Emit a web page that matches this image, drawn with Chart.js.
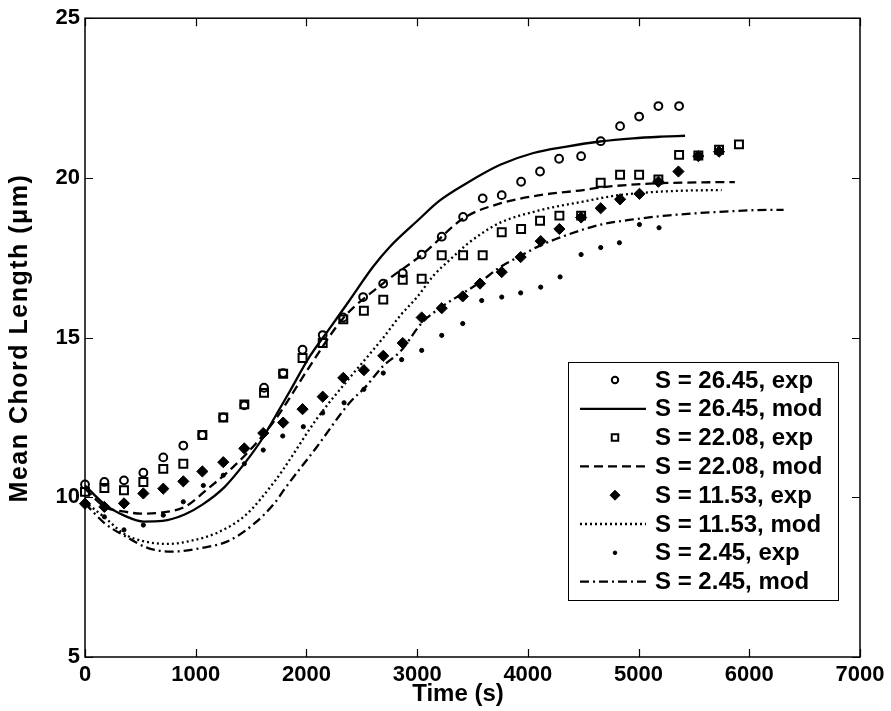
<!DOCTYPE html>
<html>
<head>
<meta charset="utf-8">
<script src="https://cdn.jsdelivr.net/npm/chart.js@4.4.1/dist/chart.umd.min.js"></script>
<style>
	html, body { margin: 0; padding: 0; background: #fff; }
	#wrap { width: 891px; height: 711px; }
</style>
</head>
<body>
<div id="wrap"><canvas id="chord-canvas" width="891" height="711"></canvas></div>
<script>
// axis ticks
const xTickValues = [0, 1000, 2000, 3000, 4000, 5000, 6000, 7000];
const yTickValues = [5, 10, 15, 20, 25];
const xTitle = "Time (s)";
const yTitle = "Mean Chord Length (\u03bcm)";

// S = 26.45
const t26exp = [0, 175, 352, 527, 707, 888, 1060, 1249, 1439, 1617, 1790, 1965, 2147, 2331, 2512, 2693, 2870, 3041, 3222, 3415, 3592, 3764, 3939, 4110, 4282, 4481, 4658, 4833, 5005, 5179, 5366];
const y26exp = [10.4, 10.48, 10.53, 10.77, 11.25, 11.62, 11.95, 12.5, 12.88, 13.43, 13.89, 14.62, 15.08, 15.63, 16.27, 16.69, 17.02, 17.6, 18.16, 18.78, 19.36, 19.46, 19.88, 20.2, 20.6, 20.68, 21.15, 21.62, 21.92, 22.25, 22.25];
const t26mod = [0, 180, 360, 530, 700, 900, 1060, 1260, 1450, 1610, 1670, 1850, 2030, 2210, 2390, 2600, 2750, 3000, 3200, 3450, 3750, 4050, 4350, 4650, 4950, 5200, 5420];
const y26mod = [10.37, 9.77, 9.42, 9.24, 9.26, 9.46, 9.77, 10.32, 11.1, 11.88, 12.24, 13.32, 14.41, 15.29, 16.17, 17.21, 17.83, 18.65, 19.28, 19.84, 20.41, 20.78, 20.98, 21.14, 21.24, 21.29, 21.32];

// S = 22.08
const t22exp = [0, 175, 352, 527, 707, 888, 1060, 1249, 1439, 1617, 1790, 1965, 2147, 2333, 2519, 2694, 2870, 3041, 3222, 3415, 3592, 3764, 3939, 4110, 4285, 4481, 4658, 4833, 5005, 5179, 5366, 5540, 5727, 5907];
const y22exp = [10.17, 10.29, 10.22, 10.48, 10.89, 11.05, 11.95, 12.5, 12.91, 13.27, 13.87, 14.36, 14.83, 15.57, 15.84, 16.19, 16.81, 16.84, 17.58, 17.58, 17.58, 18.3, 18.4, 18.66, 18.82, 18.82, 19.85, 20.1, 20.1, 19.95, 20.72, 20.7, 20.88, 21.05];
const t22mod = [0, 180, 360, 510, 660, 900, 1110, 1320, 1540, 1720, 2030, 2330, 2690, 3060, 3420, 3750, 4110, 4500, 4650, 5100, 5550, 5870];
const y22mod = [10.27, 9.7, 9.55, 9.49, 9.51, 9.7, 10.27, 10.89, 11.67, 12.44, 14.1, 15.6, 16.69, 17.64, 18.74, 19.2, 19.46, 19.62, 19.7, 19.82, 19.86, 19.87];

// S = 11.53
const t11exp = [0, 175, 352, 527, 707, 888, 1060, 1249, 1439, 1610, 1790, 1965, 2147, 2333, 2519, 2694, 2870, 3041, 3222, 3412, 3568, 3764, 3935, 4116, 4285, 4481, 4658, 4833, 5008, 5179, 5360, 5540, 5727];
const y11exp = [9.8, 9.7, 9.81, 10.12, 10.27, 10.5, 10.81, 11.1, 11.53, 12.01, 12.34, 12.76, 13.15, 13.74, 13.98, 14.43, 14.83, 15.63, 15.92, 16.29, 16.69, 17.05, 17.52, 18.02, 18.4, 18.76, 19.05, 19.33, 19.5, 19.88, 20.2, 20.68, 20.82];
const t11mod = [0, 180, 360, 510, 750, 960, 1200, 1450, 1720, 1790, 2090, 2390, 2690, 2850, 3000, 3150, 3300, 3450, 3600, 3750, 4100, 4500, 4800, 5100, 5400, 5750];
const y11mod = [9.86, 9.36, 8.84, 8.64, 8.54, 8.64, 8.9, 9.44, 10.53, 10.87, 12.44, 13.74, 14.98, 15.7, 16.27, 16.95, 17.45, 17.92, 18.3, 18.6, 18.98, 19.26, 19.45, 19.55, 19.6, 19.62];

// S = 2.45
const t2exp = [0, 175, 352, 527, 707, 888, 1069, 1249, 1439, 1610, 1786, 1972, 2147, 2340, 2519, 2694, 2860, 3041, 3222, 3412, 3583, 3764, 3935, 4116, 4291, 4481, 4658, 4827, 5008, 5185];
const y2exp = [9.8, 9.39, 8.98, 9.13, 9.44, 9.86, 10.37, 10.69, 11.05, 11.48, 11.92, 12.21, 12.64, 12.96, 13.38, 13.89, 14.31, 14.6, 15.07, 15.44, 16.16, 16.27, 16.4, 16.58, 16.9, 17.6, 17.82, 17.97, 18.54, 18.44];
const t2mod = [0, 180, 360, 570, 780, 1050, 1300, 1530, 1720, 1790, 2090, 2390, 2540, 2690, 2850, 3040, 3220, 3410, 3570, 3750, 3940, 4110, 4350, 4650, 4950, 5250, 5550, 5850, 6050, 6310];
const y2mod = [9.81, 9.18, 8.79, 8.41, 8.3, 8.41, 8.64, 9.18, 9.85, 10.2, 11.56, 12.96, 13.48, 14.1, 14.57, 15.45, 15.96, 16.38, 16.74, 17.21, 17.57, 17.88, 18.21, 18.53, 18.7, 18.82, 18.9, 18.96, 18.99, 19.0];

const pairs = (xs, ys) => xs.map((x, i) => ({ x: x, y: ys[i] }));

const expSet = (label, xs, ys, style, radius, legendRadius, filled) => ({
	label: label,
	data: pairs(xs, ys),
	showLine: false,
	pointStyle: style,
	pointRadius: radius,
	pointHoverRadius: radius,
	legendRadius: legendRadius,
	pointBorderWidth: filled ? 1 : 2,
	borderColor: "#000",
	backgroundColor: filled ? "#000" : "rgba(0,0,0,0)",
	clip: false,
});

const modSet = (label, xs, ys, dash) => ({
	label: label,
	data: pairs(xs, ys),
	showLine: true,
	pointRadius: 0,
	borderColor: "#000",
	borderWidth: 2.3,
	borderDash: dash,
	cubicInterpolationMode: "monotone",
	fill: false,
	clip: false,
});

const datasets = [
	expSet("S = 26.45, exp", t26exp, y26exp, "circle", 3.9, 3.2, false),
	modSet("S = 26.45, mod", t26mod, y26mod, []),
	expSet("S = 22.08, exp", t22exp, y22exp, "rect", 5.6, 4.6, false),
	modSet("S = 22.08, mod", t22mod, y22mod, [9, 5]),
	expSet("S = 11.53, exp", t11exp, y11exp, "rectRot", 5.6, 5, true),
	modSet("S = 11.53, mod", t11mod, y11mod, [2, 3]),
	expSet("S = 2.45, exp", t2exp, y2exp, "circle", 2.1, 1.8, true),
	modSet("S = 2.45, mod", t2mod, y2mod, [9, 4, 2, 4]),
];

const FONT = "'Liberation Sans', Arial, sans-serif";

// box, inward ticks and axis titles
const framePlugin = {
	id: "frame",
	afterDatasetsDraw(chart) {
		const { ctx, chartArea: a, scales } = chart;
		ctx.save();
		ctx.strokeStyle = "#000";
		ctx.lineWidth = 1.5;
		ctx.strokeRect(a.left, a.top, a.right - a.left, a.bottom - a.top);
		ctx.lineWidth = 1.2;
		ctx.beginPath();
		xTickValues.forEach((v) => {
			const px = Math.round(scales.x.getPixelForValue(v)) + 0.5;
			ctx.moveTo(px, a.bottom);
			ctx.lineTo(px, a.bottom - 8);
			ctx.moveTo(px, a.top);
			ctx.lineTo(px, a.top + 8);
		});
		yTickValues.forEach((v) => {
			const py = Math.round(scales.y.getPixelForValue(v)) + 0.5;
			ctx.moveTo(a.left, py);
			ctx.lineTo(a.left + 8, py);
			ctx.moveTo(a.right, py);
			ctx.lineTo(a.right - 8, py);
		});
		ctx.stroke();

		ctx.fillStyle = "#000";
		ctx.font = "bold 24px " + FONT;
		ctx.textAlign = "center";
		ctx.textBaseline = "middle";
		ctx.fillText(xTitle, 458, 694);
		ctx.translate(20, 338);
		ctx.rotate(-Math.PI / 2);
		ctx.font = "bold 25px " + FONT;
		ctx.letterSpacing = "1.5px";
		ctx.fillText(yTitle, 0, 0);
		ctx.restore();
	},
};

// legend box in the lower right corner
const legendPlugin = {
	id: "boxLegend",
	afterDraw(chart) {
		const ctx = chart.ctx;
		const box = { left: 568, top: 362, right: 838, bottom: 600 };
		ctx.save();
		ctx.fillStyle = "#fff";
		ctx.fillRect(box.left, box.top, box.right - box.left, box.bottom - box.top);
		ctx.strokeStyle = "#000";
		ctx.lineWidth = 1;
		ctx.strokeRect(box.left + 0.5, box.top + 0.5, box.right - box.left, box.bottom - box.top);

		chart.data.datasets.forEach((ds, i) => {
			const cy = 380 + i * 28.8;
			ctx.save();
			ctx.strokeStyle = "#000";
			if (ds.showLine) {
				ctx.lineWidth = ds.borderWidth;
				ctx.setLineDash(ds.borderDash);
				ctx.beginPath();
				ctx.moveTo(580, cy);
				ctx.lineTo(646, cy);
				ctx.stroke();
			} else {
				ctx.fillStyle = ds.backgroundColor;
				ctx.lineWidth = ds.pointBorderWidth;
				Chart.helpers.drawPoint(ctx, {
					pointStyle: ds.pointStyle,
					radius: ds.legendRadius,
					rotation: 0,
					borderWidth: ds.pointBorderWidth,
				}, 615, cy);
			}
			ctx.restore();
			ctx.fillStyle = "#000";
			ctx.font = "bold 24px " + FONT;
			ctx.textAlign = "left";
			ctx.textBaseline = "middle";
			ctx.fillText(ds.label, 655, cy + 1);
		});
		ctx.restore();
	},
};

new Chart("chord-canvas", {
	type: "scatter",
	data: { datasets: datasets },
	options: {
		responsive: false,
		animation: false,
		devicePixelRatio: 1,
		layout: {
			padding: { top: 16, right: 31, left: 0, bottom: 0 },
		},
		plugins: {
			legend: { display: false },
			tooltip: { enabled: false },
		},
		scales: {
			x: {
				type: "linear",
				min: 0,
				max: 7000,
				afterBuildTicks: (scale) => {
					scale.ticks = xTickValues.map((v) => ({ value: v }));
				},
				afterFit: (scale) => {
					scale.height = 54;
				},
				grid: { display: false, drawTicks: false },
				border: { display: false },
				ticks: {
					color: "#000",
					padding: 5,
					maxRotation: 0,
					callback: (v) => String(v),
					font: { family: FONT, size: 22, weight: "bold" },
				},
			},
			y: {
				type: "linear",
				min: 5,
				max: 25,
				afterBuildTicks: (scale) => {
					scale.ticks = yTickValues.map((v) => ({ value: v }));
				},
				afterFit: (scale) => {
					scale.width = 85;
				},
				grid: { display: false, drawTicks: false },
				border: { display: false },
				ticks: {
					color: "#000",
					padding: 5,
					callback: (v) => String(v),
					font: { family: FONT, size: 22, weight: "bold" },
				},
			},
		},
	},
	plugins: [framePlugin, legendPlugin],
});
</script>
</body>
</html>
